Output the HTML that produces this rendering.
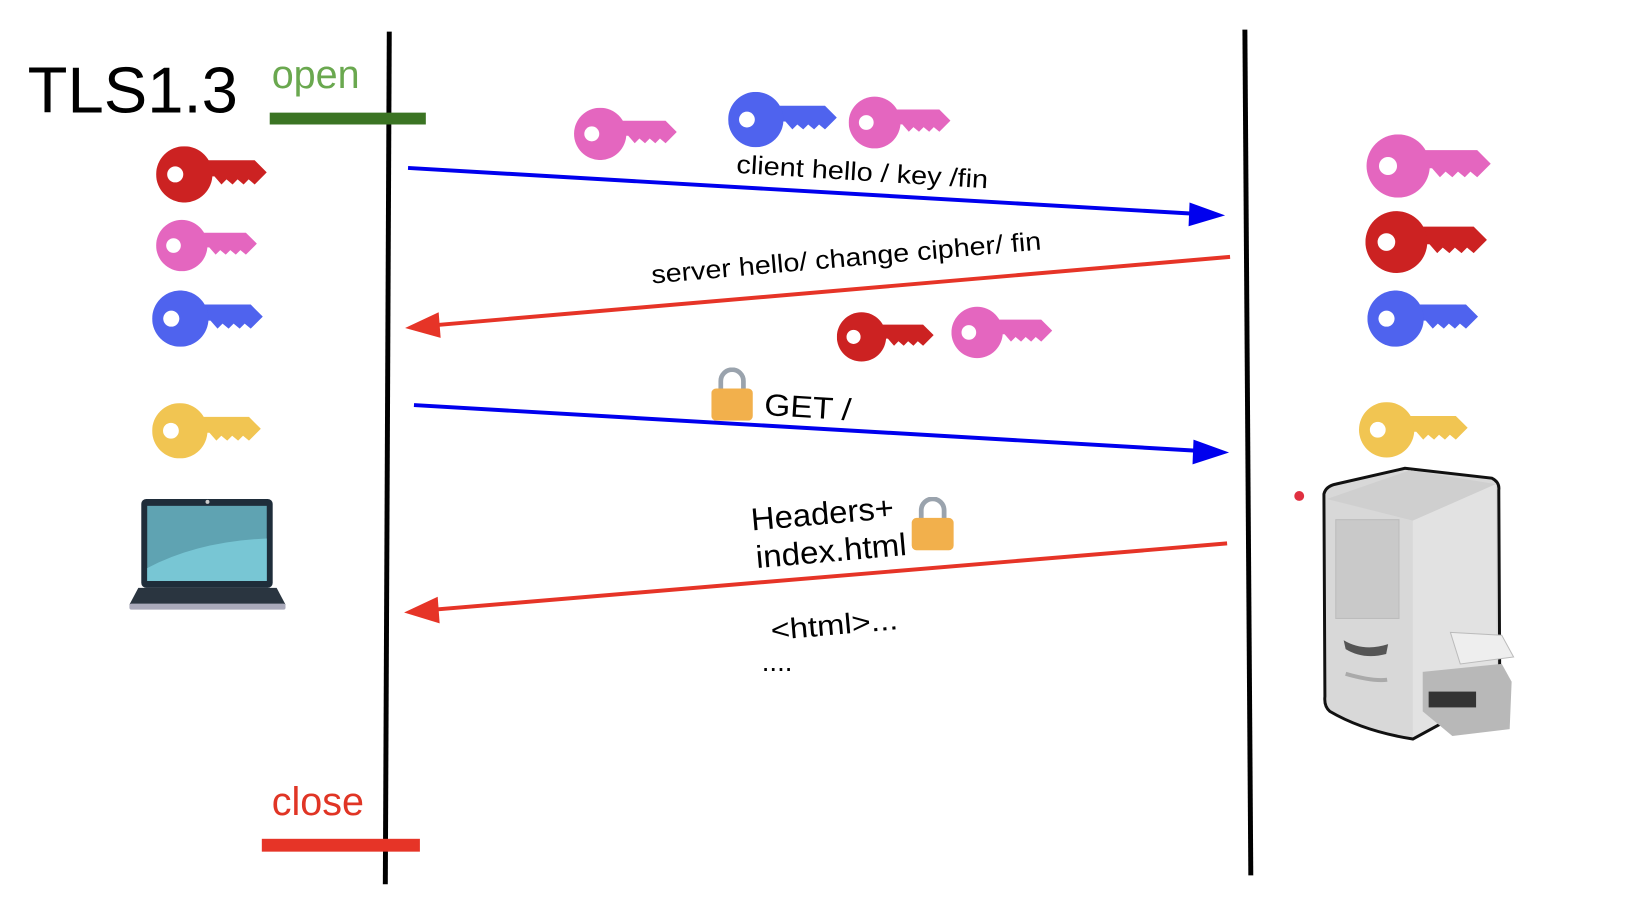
<!DOCTYPE html>
<html><head><meta charset="utf-8"><style>
html,body{margin:0;padding:0;background:#fff;}
body{width:1648px;height:900px;position:relative;overflow:hidden;font-family:"Liberation Sans",sans-serif;}
svg{position:absolute;left:0;top:0;}
</style></head><body>
<svg width="1648" height="900" viewBox="0 0 1648 900" xmlns="http://www.w3.org/2000/svg">
<defs>
<symbol id="key" viewBox="0 0 110 56">
<path d="M40 14 L98 14 L110 26 L98 38 L92 33 L87 38 L81 33 L76 38 L70 33 L65 38 L58 30 L40 30 Z" fill="currentColor"/>
<circle cx="28" cy="28" r="28" fill="currentColor"/>
<circle cx="19" cy="28" r="8" fill="#fff"/>
</symbol>
<symbol id="lock" viewBox="0 0 44 56">
<path d="M10 24 V14 A12 12 0 0 1 34 14 V24" fill="none" stroke="#9aa3ad" stroke-width="5"/>
<rect x="0" y="22" width="44" height="34" rx="5" fill="#f2b04c"/>
</symbol>
</defs>
<g transform="scale(0.988)">
<line x1="394" y1="32" x2="390" y2="895" stroke="#000" stroke-width="5"/>
<line x1="1260" y1="30" x2="1266" y2="886" stroke="#000" stroke-width="5"/>

<text x="28" y="114" font-size="66" fill="#000">TLS1.3</text>
<text x="275" y="89" font-size="40" fill="#6aa84f">open</text>
<rect x="273" y="114" width="158" height="12" fill="#3b7423"/>
<text x="275" y="825" font-size="40" fill="#e03525">close</text>
<rect x="265" y="849" width="160" height="13" fill="#e63427"/>

<line x1="413" y1="170" x2="1220" y2="217" stroke="#0000ee" stroke-width="4"/>
<polygon points="1240,218 1204,205 1203,229" fill="#0000ee"/>
<text font-size="26" fill="#000" textLength="255" lengthAdjust="spacingAndGlyphs" transform="translate(745,175) rotate(3.5)">client hello / key /fin</text>

<line x1="1245" y1="260" x2="430" y2="330" stroke="#e63427" stroke-width="4"/>
<polygon points="410,332 444,316 446,342" fill="#e63427"/>
<text font-size="26" fill="#000" textLength="396" lengthAdjust="spacingAndGlyphs" transform="translate(660,287) rotate(-5)">server hello/ change cipher/ fin</text>

<line x1="419" y1="410" x2="1225" y2="457" stroke="#0000ee" stroke-width="4"/>
<polygon points="1244,458 1208,445 1207,470" fill="#0000ee"/>
<text font-size="31" fill="#000" textLength="88" lengthAdjust="spacingAndGlyphs" transform="translate(773,420) rotate(3.5)">GET /</text>
<use href="#lock" x="720" y="372" width="42" height="54"/>

<line x1="1242" y1="550" x2="428" y2="618" stroke="#e63427" stroke-width="4"/>
<polygon points="409,620 443,604 445,631" fill="#e63427"/>
<text font-size="32" fill="#000" textLength="145" lengthAdjust="spacingAndGlyphs" transform="translate(761,537) rotate(-5)">Headers+</text>
<text font-size="32" fill="#000" textLength="153" lengthAdjust="spacingAndGlyphs" transform="translate(766,575) rotate(-5)">index.html</text>
<use href="#lock" x="922" y="503" width="44" height="54"/>
<text font-size="29" fill="#000" textLength="129" lengthAdjust="spacingAndGlyphs" transform="translate(781,648) rotate(-5)">&lt;html&gt;...</text>
<text font-size="28" fill="#000" transform="translate(771,679)">....</text>

<use href="#key" x="158" y="148" width="112" height="57" color="#cc2222"/>
<use href="#key" x="158" y="222" width="102" height="53" color="#e466bf"/>
<use href="#key" x="154" y="294" width="112" height="57" color="#4f63ee"/>
<use href="#key" x="154" y="408" width="110" height="56" color="#f1c552"/>
<use href="#key" x="581" y="109" width="104" height="53" color="#e466bf"/>
<use href="#key" x="737" y="93" width="110" height="56" color="#4f63ee"/>
<use href="#key" x="859" y="96" width="103" height="56" color="#e466bf"/>
<use href="#key" x="847" y="315" width="98" height="52" color="#cc2222"/>
<use href="#key" x="963" y="310" width="102" height="53" color="#e466bf"/>
<use href="#key" x="1382" y="136" width="128" height="64" color="#e466bf"/>
<use href="#key" x="1382" y="213" width="123" height="64" color="#cc2222"/>
<use href="#key" x="1384" y="294" width="112" height="57" color="#4f63ee"/>
<use href="#key" x="1375" y="407" width="111" height="56" color="#f1c552"/>

<rect x="143" y="505" width="133" height="90" rx="5" fill="#1f2d3a"/>
<rect x="149" y="512" width="121" height="76" fill="#5fa3b2"/>
<path d="M149 575 Q200 548 270 545 V588 H149 Z" fill="#78c6d4"/>
<circle cx="210" cy="508" r="2" fill="#ccc"/>
<path d="M140 595 H280 L289 612 H131 Z" fill="#2a3540"/>
<rect x="131" y="611" width="158" height="6" rx="2" fill="#aab"/>

<circle cx="1315" cy="502" r="5" fill="#e03040"/>

<path d="M1340 500 Q1342 492 1352 490 L1422 474 L1510 484 Q1518 488 1517 496 L1518 700 L1430 748 Q1380 740 1346 720 Q1340 715 1341 705 Z" fill="#d8d8d8" stroke="#111" stroke-width="3"/>
<path d="M1343 505 L1427 476 L1514 490 L1430 527 Z" fill="#cfcfcf"/>
<path d="M1430 527 L1514 490 L1515 700 L1430 746 Z" fill="#e2e2e2"/>
<rect x="1352" y="526" width="64" height="100" fill="#c9c9c9" stroke="#bbb"/>
<path d="M1360 648 Q1380 660 1405 652 L1403 662 Q1380 668 1362 657 Z" fill="#555"/>
<path d="M1362 682 Q1390 690 1404 688" stroke="#aaa" stroke-width="4" fill="none"/>
<path d="M1440 680 L1520 672 L1530 690 L1528 738 L1470 745 L1440 720 Z" fill="#b8b8b8"/>
<rect x="1446" y="700" width="48" height="16" fill="#333"/>
<path d="M1468 640 L1520 643 L1532 665 L1478 672 Z" fill="#eee" stroke="#bbb"/>
</g>
</svg>
</body></html>
